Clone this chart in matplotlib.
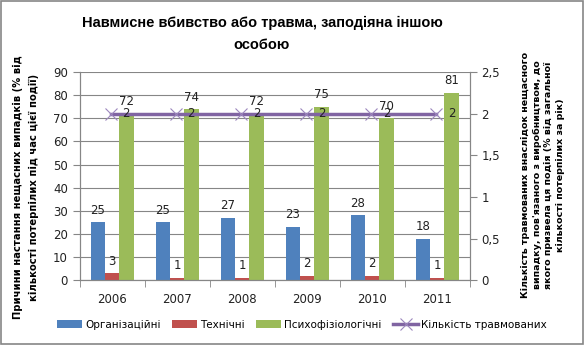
import numpy as np
import matplotlib.pyplot as plt

years = ['2006', '2007', '2008', '2009', '2010', '2011']
org = [25, 25, 27, 23, 28, 18]
tech = [3, 1, 1, 2, 2, 1]
psych = [72, 74, 72, 75, 70, 81]
injured = [2, 2, 2, 2, 2, 2]

right_ticks = [0, 0.5, 1, 1.5, 2, 2.5]
right_labels = ['0', '0,5', '1', '1,5', '2', '2,5']

plt.rcParams['font.family'] = 'DejaVu Sans'
gray = '#868686'
txt = '#222222'

fig = plt.figure(figsize=(5.85, 3.45), dpi=100)
ax = fig.add_axes([0.136, 0.188, 0.667, 0.603])
ax2 = ax.twinx()

x = np.arange(len(years))
w = 0.22
b1 = ax.bar(x - w, org, w, color='#4f81bd', label='Організаційні')
b2 = ax.bar(x, tech, w, color='#c0504d', label='Технічні')
b3 = ax.bar(x + w, psych, w, color='#9bbb59', label='Психофізіологічні')
for bars in (b1, b2, b3):
    ax.bar_label(bars, padding=4, fontsize=8.5, color=txt)

ax.set_xlim(-0.5, len(years) - 0.5)
ax.set_ylim(0, 90)
ax.set_yticks(range(0, 91, 10))
ax.set_xticks(x)
ax.set_xticklabels(years)
# category axis ticks sit between the years
ax.set_xticks(np.arange(-0.5, len(years), 1), minor=True)
ax.tick_params(axis='x', which='major', length=0, pad=9)
ax.tick_params(axis='x', which='minor', length=5, color=gray)
ax.yaxis.grid(True, color=gray, linewidth=0.8)
ax.set_axisbelow(True)
ax.tick_params(axis='both', labelsize=8.5, colors=txt)
ax.tick_params(axis='y', length=5, color=gray)
for s in ax.spines.values():
    s.set_color(gray)
ax.spines['top'].set_visible(False)

ln, = ax2.plot(x - 0.02, injured, color='#8064a2', linewidth=2.5, marker='x',
               markersize=8, markeredgewidth=0.8, markeredgecolor='#9c86bd',
               label='Кількість травмованих')
for xi, v in zip(x, injured):
    ax2.annotate(str(v), (xi - 0.02, v), xytext=(8.5, 0), textcoords='offset points',
                 ha='left', va='center', fontsize=8.5, color=txt)
ax2.set_ylim(0, 2.5)
ax2.set_yticks(right_ticks)
ax2.set_yticklabels(right_labels)
ax2.tick_params(labelsize=8.5, colors=txt, length=5, color=gray)
for s in ax2.spines.values():
    s.set_color(gray)
ax2.spines['top'].set_visible(False)

fig.text(26 / 585, 1 - 187 / 345,
         'Причини настання нещасних випадків (% від\nкількості потерпілих під час цієї події)',
         rotation=90, ha='center', va='center', fontsize=7.2, fontweight='bold',
         linespacing=1.7, color='black')
fig.text(543 / 585, 1 - 175 / 345,
         "Кількість травмованих внаслідок нещасного\nвипадку, пов'язаного з виробництвом, до\n"
         "якого призвела ця подія (% від загальної\nкількості потерпілих за рік)",
         rotation=90, ha='center', va='center', fontsize=6.8, fontweight='bold',
         linespacing=1.35, color='black')

fig.text(262 / 585, 1 - 34 / 345, 'Навмисне вбивство або травма, заподіяна іншою\nособою',
         ha='center', va='center', fontsize=10.5, fontweight='bold', linespacing=1.65,
         family=['Liberation Sans', 'DejaVu Sans'])

handles = [b1, b2, b3, ln]
fig.legend(handles, [h.get_label() for h in handles], loc='center', bbox_to_anchor=(302 / 585, 1 - 325 / 345),
           ncol=4, frameon=False, fontsize=7.5, handlelength=2.4, handleheight=0.8,
           columnspacing=1.1, handletextpad=0.3, borderpad=0)

fig.patches.append(plt.Rectangle((0.002, 0.003), 0.995, 0.994, transform=fig.transFigure,
                                 fill=False, edgecolor=gray, linewidth=1.2))

fig.savefig('out.png', dpi=100)
